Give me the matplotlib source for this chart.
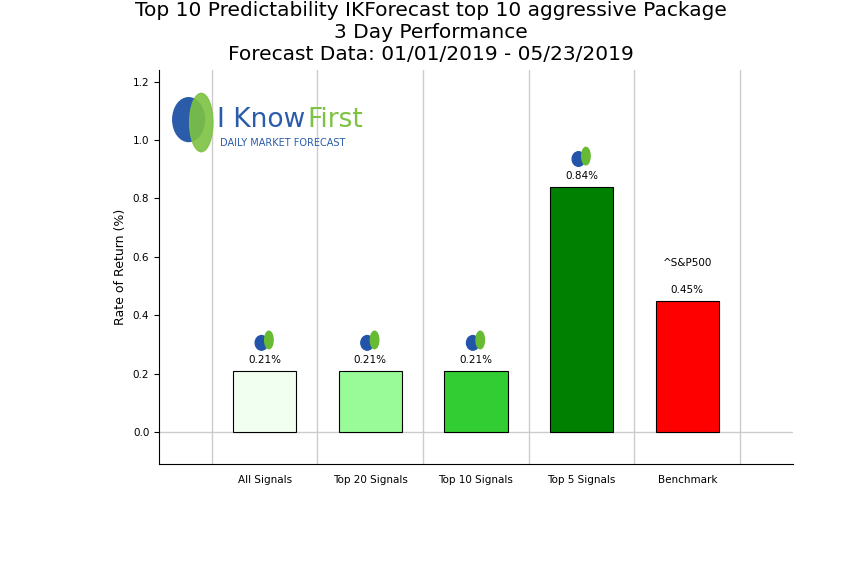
import matplotlib
matplotlib.use("Agg")
import matplotlib.pyplot as plt
from matplotlib.patches import Ellipse

categories = ["All Signals", "Top 20 Signals", "Top 10 Signals", "Top 5 Signals", "Benchmark"]
values = [0.21, 0.21, 0.21, 0.84, 0.45]
labels = ["0.21%", "0.21%", "0.21%", "0.84%", "0.45%"]
colors = ["#f0fff0", "#98fb98", "#32cd32", "#008000", "#ff0000"]

fig = plt.figure(figsize=(8.62, 5.8), dpi=100)
ax = fig.add_axes([159/862, 1-464/580, (793-159)/862, (464-70)/580])
x = list(range(len(categories)))
ax.bar(x, values, width=0.6, color=colors, edgecolor="black", linewidth=0.8, zorder=3)
for xi in [-0.5, 0.5, 1.5, 2.5, 3.5, 4.5]:
    ax.axvline(xi, color="#cccccc", linewidth=1, zorder=1)
ax.axhline(0, color="#cccccc", linewidth=1, zorder=1)
ax.set_xlim(-1, 5)
ax.set_ylim(-0.11, 1.24)
ax.set_xticks(x)
ax.set_xticklabels(categories, fontsize=7.5)
ax.tick_params(axis="x", length=0, pad=8)
ax.set_yticks([0, 0.2, 0.4, 0.6, 0.8, 1.0, 1.2])
ax.set_yticklabels(["0.0", "0.2", "0.4", "0.6", "0.8", "1.0", "1.2"], fontsize=7.5)
ax.set_ylabel("Rate of Return (%)", fontsize=9)
for s in ["top", "right"]:
    ax.spines[s].set_visible(False)
for xi, v, l in zip(x, values, labels):
    ax.text(xi, v + 0.02, l, ha="center", va="bottom", fontsize=7.5)
    if xi < 4:
        ax.add_patch(Ellipse((xi - 0.03, v + 0.095), 0.12, 0.05, color="#2255aa", zorder=4))
        ax.add_patch(Ellipse((xi + 0.04, v + 0.105), 0.08, 0.06, color="#66bb33", zorder=4))
ax.text(4, 0.56, "^S&P500", ha="center", va="bottom", fontsize=7.5)
fig.suptitle("Top 10 Predictability IKForecast top 10 aggressive Package\n3 Day Performance\nForecast Data: 01/01/2019 - 05/23/2019",
             fontsize=14.5, y=0.998, linespacing=1.2)
# logo
ax.add_patch(Ellipse((-0.72, 1.07), 0.3, 0.15, color="#2a5caa", zorder=4))
ax.add_patch(Ellipse((-0.6, 1.06), 0.22, 0.2, color="#7dc242", zorder=4, alpha=0.9))
ax.text(-0.45, 1.07, "I Know", color="#2a5caa", fontsize=19, va="center", ha="left", zorder=5)
ax.text(0.4, 1.07, "First", color="#7dc242", fontsize=19, va="center", ha="left", zorder=5)
ax.text(-0.42, 0.99, "DAILY MARKET FORECAST", color="#2a5caa", fontsize=7, va="center", ha="left", zorder=5)
fig.savefig("out.png", dpi=100)
